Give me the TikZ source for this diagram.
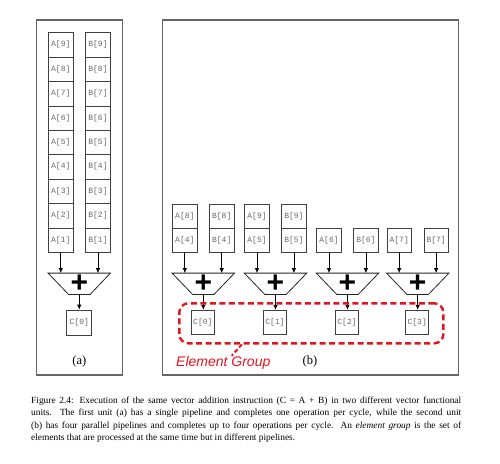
\documentclass[tikz,border=0pt]{standalone}
\usepackage{fontspec}
\setmainfont{Liberation Serif}
\newfontfamily\cellfont{Liberation Mono}
\newfontfamily\labfont{Liberation Sans}
\usetikzlibrary{arrows.meta,calc}
\definecolor{egred}{HTML}{E2141E}
\begin{document}
\begin{tikzpicture}[x=1pt,y=-1pt,
  frame/.style={draw=black!60, line width=1.1pt, inner sep=0},
  cell/.style={draw=black!75, line width=0.7pt, minimum width=24.5pt, minimum height=24.4pt, inner sep=0, font=\cellfont\fontsize{8}{9}\selectfont, text=black!60},
  cbox/.style={cell, minimum width=23pt, minimum height=24pt},
  cboxa/.style={cell, minimum width=25pt, minimum height=25pt},
  adder/.style={minimum width=62pt, minimum height=21pt, inner sep=0, font=\labfont\bfseries\fontsize{30}{30}\selectfont},
  adderline/.style={draw=black!85, line width=0.8pt},
  arr/.style={-{Latex[length=5pt,width=4.5pt]}, line width=0.8pt},
  panel/.style={font=\fontsize{12.5}{14}\selectfont, inner sep=0},
  egbox/.style={draw=egred, line width=2.4pt, dash pattern=on 6pt off 3.5pt, rounded corners=9pt, inner sep=0},
  egline/.style={draw=egred, line width=2pt, dash pattern=on 4pt off 2.5pt},
]
\useasboundingbox (0,0) rectangle (500,463);

% frames
\node[frame, minimum width=86pt, minimum height=355pt] (fa) at (79.5,197.5) {};
\node[frame, minimum width=296.5pt, minimum height=355pt] (fb) at (310.6,197.5) {};

% panel (a)
\foreach \i [count=\k from 0] in {9,8,7,6,5,4,3,2,1} {
  \node[cell] (aA\i) at (60.8, 44.9+24.4*\k) {A[\i]};
  \node[cell] (aB\i) at (98.0, 44.9+24.4*\k) {B[\i]};
}
\node[adder] (aadd) at (79.3,283.8) {+};
\draw[adderline] (aadd.north west) -- (aadd.north east) -- ([xshift=-20.5pt]aadd.south east) -- ([xshift=20.5pt]aadd.south west) -- cycle;
\node[cboxa] (aC) at (79.3,322.5) {C[0]};
\draw[arr] (aA1.south) -- (aA1.south |- aadd.north);
\draw[arr] (aB1.south) -- (aB1.south |- aadd.north);
\draw[arr] (aadd.south) -- (aC.north);
\node[panel] (la) at (79.3,361.7) {(a)};

% panel (b)
\foreach \cx/\i [count=\k from 0] in {203.3/4,275.5/5,347.5/6,417.7/7} {
  \node[cell] (bA\i) at (\cx-18.5, 240.5) {A[\i]};
  \node[cell] (bB\i) at (\cx+18.4, 240.5) {B[\i]};
  \node[adder] (badd\k) at (\cx,283.8) {+};
  \draw[adderline] (badd\k.north west) -- (badd\k.north east) -- ([xshift=-20.5pt]badd\k.south east) -- ([xshift=20.5pt]badd\k.south west) -- cycle;
  \node[cbox] (bC\k) at (\cx-0.5,322.2) {C[\k]};
  \draw[arr] (bA\i.south) -- (bA\i.south |- badd\k.north);
  \draw[arr] (bB\i.south) -- (bB\i.south |- badd\k.north);
  \draw[arr] (badd\k.south) -- (badd\k.south |- bC\k.north);
}
\node[cell] (bA8) at (184.8,216.1) {A[8]};
\node[cell] (bB8) at (221.7,216.1) {B[8]};
\node[cell] (bA9) at (257.0,216.1) {A[9]};
\node[cell] (bB9) at (293.9,216.1) {B[9]};

\node[egbox, minimum width=264pt, minimum height=40pt] (eg) at (311.3,323.3) {};
\node[anchor=base west, text=egred, font=\labfont\itshape\fontsize{14}{16}\selectfont, inner sep=0] (egl) at (176,366.5) {Element Group};
\coordinate (egc) at (231.7,355.8);
\draw[egline] ([xshift=63.7pt]eg.south west) -- (egc);
\node[panel] (lb) at (310,361.7) {(b)};

% caption
\node[anchor=north west, inner sep=0, text width=430pt, align=justify, font=\fontsize{9.4}{12.45}\selectfont] (cap) at (31,396.5) {Figure 2.4: Execution of the same vector addition instruction (C = A + B) in two different vector functional\linebreak units. The first unit (a) has a single pipeline and completes one operation per cycle, while the second unit\linebreak (b) has four parallel pipelines and completes up to four operations per cycle. An \textit{element group} is the set of\linebreak elements that are processed at the same time but in different pipelines.};
\end{tikzpicture}
\end{document}
